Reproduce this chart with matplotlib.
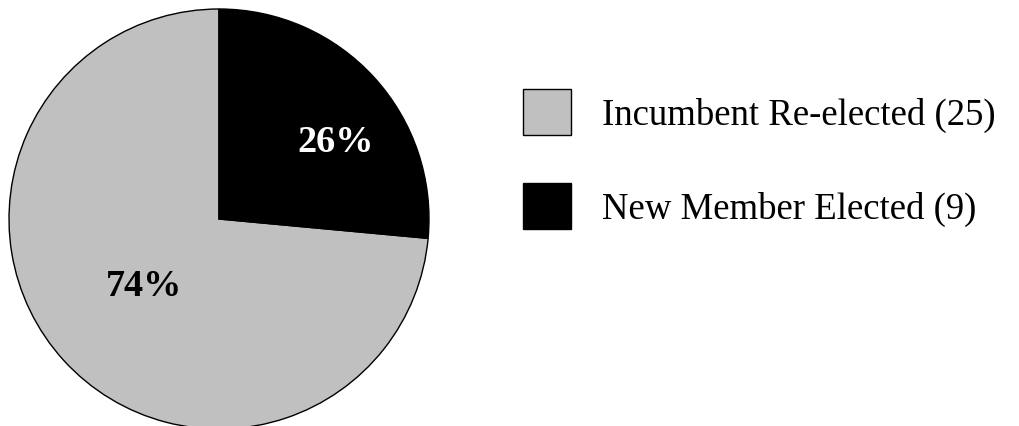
import matplotlib
matplotlib.use("Agg")
import matplotlib.pyplot as plt

labels = ['Incumbent Re-elected', 'New Member Elected']
counts = [25, 9]
colors = ['#c0c0c0', '#000000']
text_colors = ['black', 'white']

plt.rcParams['font.family'] = ['Liberation Serif', 'DejaVu Serif']

W, H = 1019, 427
fig = plt.figure(figsize=(W / 100, H / 100), dpi=100)

# pie: center (219, 220) px, radius 210 px
cx, cy, r = 219, 220, 210
ax = fig.add_axes([(cx - r) / W, (H - cy - r) / H, 2 * r / W, 2 * r / H])

total = sum(counts)
wedges, _ = ax.pie(counts, colors=colors, startangle=90, counterclock=True,
                   wedgeprops=dict(edgecolor='black', linewidth=1))
ax.set_xlim(-1, 1)
ax.set_ylim(-1, 1)

# percentage labels
label_pos = [(-0.357, -0.319), (0.557, 0.367)]
for c, pos, tc in zip(counts, label_pos, text_colors):
    ax.text(pos[0], pos[1], f'{round(100 * c / total)}%', color=tc,
            fontsize=27.5, fontweight='bold', ha='center', va='center')

leg_labels = [f'{l} ({c})' for l, c in zip(labels, counts)]
fig.legend(wedges, leg_labels, loc='upper left',
           bbox_to_anchor=(523 / W, 1 - 90 / H), frameon=False,
           fontsize=26.5, handlelength=1.3, handleheight=1.55,
           labelspacing=1.3, handletextpad=0.85, borderpad=0, borderaxespad=0)

fig.savefig('out.png', dpi=100)
